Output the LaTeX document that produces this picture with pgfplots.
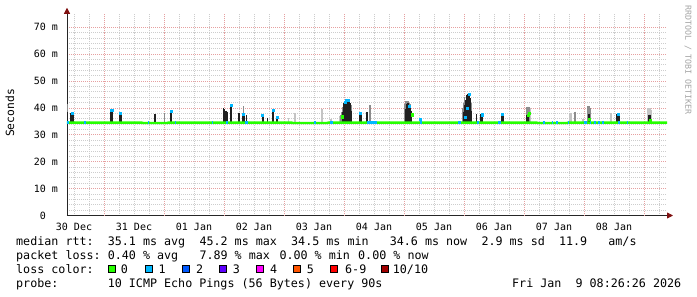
\documentclass[border=0pt]{standalone}
\usepackage{pgfplots}
\pgfplotsset{compat=1.18}
\usepackage{pgfplotstable}
\usepackage{fontspec}
\setmainfont{DejaVu Sans Mono}
\usetikzlibrary{arrows.meta}

\definecolor{lzero}{RGB}{38,255,0}
\definecolor{lone}{RGB}{0,184,255}
\definecolor{ltwo}{RGB}{0,89,255}
\definecolor{lthree}{RGB}{94,0,255}
\definecolor{lfour}{RGB}{255,0,255}
\definecolor{lfive}{RGB}{255,85,0}
\definecolor{lsix}{RGB}{255,0,0}
\definecolor{lten}{RGB}{161,0,0}
\definecolor{ggrid}{RGB}{205,205,205}
\definecolor{rgrid}{RGB}{230,160,160}
\definecolor{arrowred}{RGB}{128,16,16}
\definecolor{smkdark}{RGB}{32,32,32}
\definecolor{smkmid}{RGB}{140,140,140}
\definecolor{smklight}{RGB}{196,196,196}
\definecolor{wmark}{RGB}{165,165,165}

% hours since start of graph (Dec 30 08:26), top of smoke in ms
\pgfplotstableread{
h top
0.2 38.6
1.6 38.0
2.0 37.6
2.4 37.9
17.4 39.0
17.8 39.0
18.2 38.8
21.2 38.0
21.6 38.0
35.2 37.7
41.4 38.7
41.8 38.7
62.5 39.8
62.9 39.5
63.6 39.0
64.0 38.6
65.4 40.9
65.8 40.9
68.6 38.2
69.0 38.2
70.4 37.7
70.8 37.7
71.9 37.4
78.2 37.4
78.6 37.6
80.1 36.4
82.2 39.2
82.6 39.2
83.8 36.5
84.2 36.5
110.4 38.5
110.8 41.7
111.2 42.3
111.6 42.9
112.0 43.0
112.4 43.0
112.8 42.8
113.2 41.7
113.6 39.0
117.2 37.8
117.6 37.8
119.7 38.5
120.1 38.5
135.6 39.5
136.0 41.5
136.4 41.7
136.8 41.0
137.2 40.5
137.6 39.0
141.4 36.0
158.5 38.6
158.9 39.8
159.2 41.0
159.6 43.0
159.9 44.8
160.2 45.3
160.5 45.4
160.9 44.8
161.2 43.6
161.6 39.0
163.9 37.7
165.6 37.8
166.0 37.8
174.0 37.7
174.4 37.7
184.0 37.4
184.6 37.4
208.8 37.7
220.0 37.7
220.4 37.7
220.8 37.7
232.8 37.5
233.2 37.5
}\darksmoke

\pgfplotstableread{
h top
0.2 41.4
38.9 38.0
70.6 40.7
109.6 37.5
110.0 38.5
110.4 40.5
113.6 41.0
121.0 41.0
121.4 41.0
135.2 41.5
135.6 42.4
136.0 42.5
136.4 42.5
136.8 42.0
137.2 41.5
158.2 40.0
158.6 42.0
159.0 44.0
161.8 42.0
184.0 40.5
184.4 40.5
184.8 40.2
203.2 38.6
208.4 40.6
208.8 40.6
209.2 40.0
}\midsmoke

\pgfplotstableread{
h top
88.6 36.1
91.0 38.0
91.4 38.0
101.8 39.7
102.2 39.7
105.6 36.0
109.2 37.0
185.2 40.0
201.2 38.2
201.6 38.2
206.4 36.0
217.6 38.0
232.4 39.8
232.8 39.8
233.2 39.8
233.6 39.4
}\lightsmoke

\begin{document}
\begin{tikzpicture}
\useasboundingbox (0,0) rectangle (697pt,-297pt);
\fill[white] (0,0) rectangle (697pt,-297pt);
\begin{axis}[
  at={(67pt,-215.5pt)}, anchor=south west,
  scale only axis, width=600pt, height=201.75pt,
  xmin=0, xmax=240, ymin=0, ymax=75,
  axis lines=left,
  axis line style={line width=0.8pt, black!85, -{Triangle[length=6pt,width=6pt,color=arrowred]}, shorten >=-6pt},
  xtick={2.8,26.8,50.8,74.8,98.8,122.8,146.8,170.8,194.8,218.8},
  xticklabels={30 Dec,31 Dec,01 Jan,02 Jan,03 Jan,04 Jan,05 Jan,06 Jan,07 Jan,08 Jan},
  minor xtick={8.8,20.8,32.8,44.8,56.8,68.8,80.8,92.8,104.8,116.8,128.8,140.8,152.8,164.8,176.8,188.8,200.8,212.8,224.8,236.8},
  extra x ticks={14.8,38.8,62.8,86.8,110.8,134.8,158.8,182.8,206.8,230.8},
  extra x tick labels={},
  extra x tick style={grid=major, major x grid style={draw=rgrid, line width=0.8pt, dash pattern=on 1pt off 1pt}},
  ytick={0,10,20,30,40,50,60,70},
  yticklabels={{0\hphantom{\ m}},10 m,20 m,30 m,40 m,50 m,60 m,70 m},
  minor y tick num=4,
  grid=both,
  major x grid style={draw=ggrid, line width=0.8pt, dash pattern=on 1pt off 1pt},
  minor grid style={draw=ggrid, line width=0.8pt, dash pattern=on 1pt off 1pt},
  major y grid style={draw=rgrid, line width=0.8pt, dash pattern=on 1pt off 1pt},
  tick style={draw=none},
  tick label style={font=\fontsize{10}{12}\selectfont, text=black},
  yticklabel style={xshift=-3.5pt},
  xticklabel style={yshift=-2pt},
]
% smoke
\addplot[draw=none, mark=none, error bars/.cd, y dir=minus, y explicit, error mark=none,
  error bar style={line width=1.2pt, draw=smklight}]
  table[x=h, y=top, y error minus expr=\thisrow{top}-34.3] {\lightsmoke};
\addplot[draw=none, mark=none, error bars/.cd, y dir=minus, y explicit, error mark=none,
  error bar style={line width=1.2pt, draw=smkmid}]
  table[x=h, y=top, y error minus expr=\thisrow{top}-34.3] {\midsmoke};
\addplot[draw=none, mark=none, error bars/.cd, y dir=minus, y explicit, error mark=none,
  error bar style={line width=1.2pt, draw=smkdark}]
  table[x=h, y=top, y error minus expr=\thisrow{top}-34.3] {\darksmoke};
% median, 0 loss
\addplot[lzero, line width=2.4pt] coordinates {
 (0,34.5) (30,34.5) (30.4,34.4) (40,34.4) (40.4,34.5) (90,34.5) (90.4,34.4) (104,34.4) (104.4,34.5) (188,34.5) (188.4,34.4) (200,34.4) (200.4,34.5) (240,34.5)};
% median, 1 loss
\addplot[lone, line width=2.4pt, unbounded coords=jump] coordinates {
 (0,34.5) (0.8,34.5) (0.8,nan)
 (6.8,34.5) (7.6,34.5) (7.6,nan)
 (32.2,34.5) (32.6,34.5) (32.6,nan)
 (43.2,34.5) (43.6,34.5) (43.6,nan)
 (57.8,34.5) (58.4,34.5) (58.4,nan)
 (63.6,34.5) (64.4,34.5) (64.4,nan)
 (71.2,34.5) (72.2,34.5) (72.2,nan)
 (98.6,34.5) (99.6,34.5) (99.6,nan)
 (105.2,34.5) (106.2,34.5) (106.2,nan)
 (119.8,34.5) (123.8,34.5) (123.8,nan)
 (141.2,34.5) (141.8,34.5) (141.8,nan)
 (156.4,34.5) (157.6,34.5) (157.6,nan)
 (163.8,34.5) (164.6,34.5) (164.6,nan)
 (172.4,34.5) (173.4,34.5) (173.4,nan)
 (190.2,34.5) (191.0,34.5) (191.0,nan)
 (193.8,34.5) (194.2,34.5) (194.2,nan)
 (195.6,34.5) (196.2,34.5) (196.2,nan)
 (200.2,34.5) (200.6,34.5) (200.6,nan)
 (206.6,34.5) (207.8,34.5) (207.8,nan)
 (209.2,34.5) (209.6,34.5) (209.6,nan)
 (210.6,34.5) (211.4,34.5) (211.4,nan)
 (212.4,34.5) (213.0,34.5) (213.0,nan)
 (213.8,34.5) (214.6,34.5) (214.6,nan)
 (220.4,34.5) (221.2,34.5) (221.2,nan)
 (223.8,34.5) (224.2,34.5)
};
% elevated medians
\addplot[only marks, mark=square*, mark size=1.1pt, lone] coordinates {
 (2.2,38.0) (17.8,39.0) (18.2,39.0) (21.4,38.0) (41.6,38.8) (65.6,41.0) (70.6,37.6) (78.2,37.3)
 (82.4,39.2) (84.0,36.5) (111.2,42.1) (111.6,42.9) (112.4,42.9) (117.2,37.9) (136.8,40.5)
 (141.4,35.8) (159.2,36.5) (160.2,40.0) (161.0,45.0) (166.0,37.5) (174.2,37.7) (220.4,37.7)};
\addplot[only marks, mark=square*, mark size=1.1pt, lzero] coordinates {
 (110.0,36.7) (138.0,37.5) (184.4,37.2) (184.8,38.0) (208.8,35.7) (233.2,35.5)};
\end{axis}

% axis title and watermark
\node[rotate=90, font=\fontsize{11.3}{13}\selectfont] at (10pt,-113pt) {Seconds};
\node[rotate=-90, font=\fontsize{8.3}{10}\selectfont, text=wmark] at (688pt,-60pt) {RRDTOOL / TOBI OETIKER};

% legend
\begin{scope}[every node/.style={anchor=base west, inner sep=0pt, font=\fontsize{11.7}{14}\selectfont}]
\node at (16pt,-245pt) {median rtt:};
\node at (107.6pt,-245pt) {35.1 ms avg};
\node at (199.3pt,-245pt) {45.2 ms max};
\node at (291pt,-245pt) {34.5 ms min};
\node at (389.6pt,-245pt) {34.6 ms now};
\node at (481.3pt,-245pt) {2.9 ms sd};
\node at (558.8pt,-245pt) {11.9};
\node at (608.2pt,-245pt) {am/s};

\node at (16pt,-259pt) {packet loss:};
\node at (107.6pt,-259pt) {0.40 \% avg};
\node at (199.3pt,-259pt) {7.89 \% max};
\node at (279.3pt,-259pt) {0.00 \% min};
\node at (358pt,-259pt) {0.00 \% now};

\node at (16pt,-273pt) {loss color:};
\node at (120.7pt,-273pt) {0};
\node at (158.3pt,-273pt) {1};
\node at (196pt,-273pt) {2};
\node at (232.7pt,-273pt) {3};
\node at (270pt,-273pt) {4};
\node at (306.7pt,-273pt) {5};
\node at (345pt,-273pt) {6-9};
\node at (392.7pt,-273pt) {10/10};

\node at (16pt,-287pt) {probe:};
\node at (107.6pt,-287pt) {10 ICMP Echo Pings (56 Bytes) every 90s};
\node at (512pt,-287pt) {Fri Jan~~9 08:26:26 2026};
\end{scope}
\begin{scope}[line width=0.8pt]
\filldraw[fill=lzero, draw=black] (108.3pt,-265.3pt) rectangle ++(7pt,-7pt);
\filldraw[fill=lone, draw=black] (145.7pt,-265.3pt) rectangle ++(7pt,-7pt);
\filldraw[fill=ltwo, draw=black] (182.7pt,-265.3pt) rectangle ++(7pt,-7pt);
\filldraw[fill=lthree, draw=black] (219.3pt,-265.3pt) rectangle ++(7pt,-7pt);
\filldraw[fill=lfour, draw=black] (256.7pt,-265.3pt) rectangle ++(7pt,-7pt);
\filldraw[fill=lfive, draw=black] (293.3pt,-265.3pt) rectangle ++(7pt,-7pt);
\filldraw[fill=lsix, draw=black] (330.7pt,-265.3pt) rectangle ++(7pt,-7pt);
\filldraw[fill=lten, draw=black] (381.3pt,-265.3pt) rectangle ++(7pt,-7pt);
\end{scope}
\end{tikzpicture}
\end{document}
